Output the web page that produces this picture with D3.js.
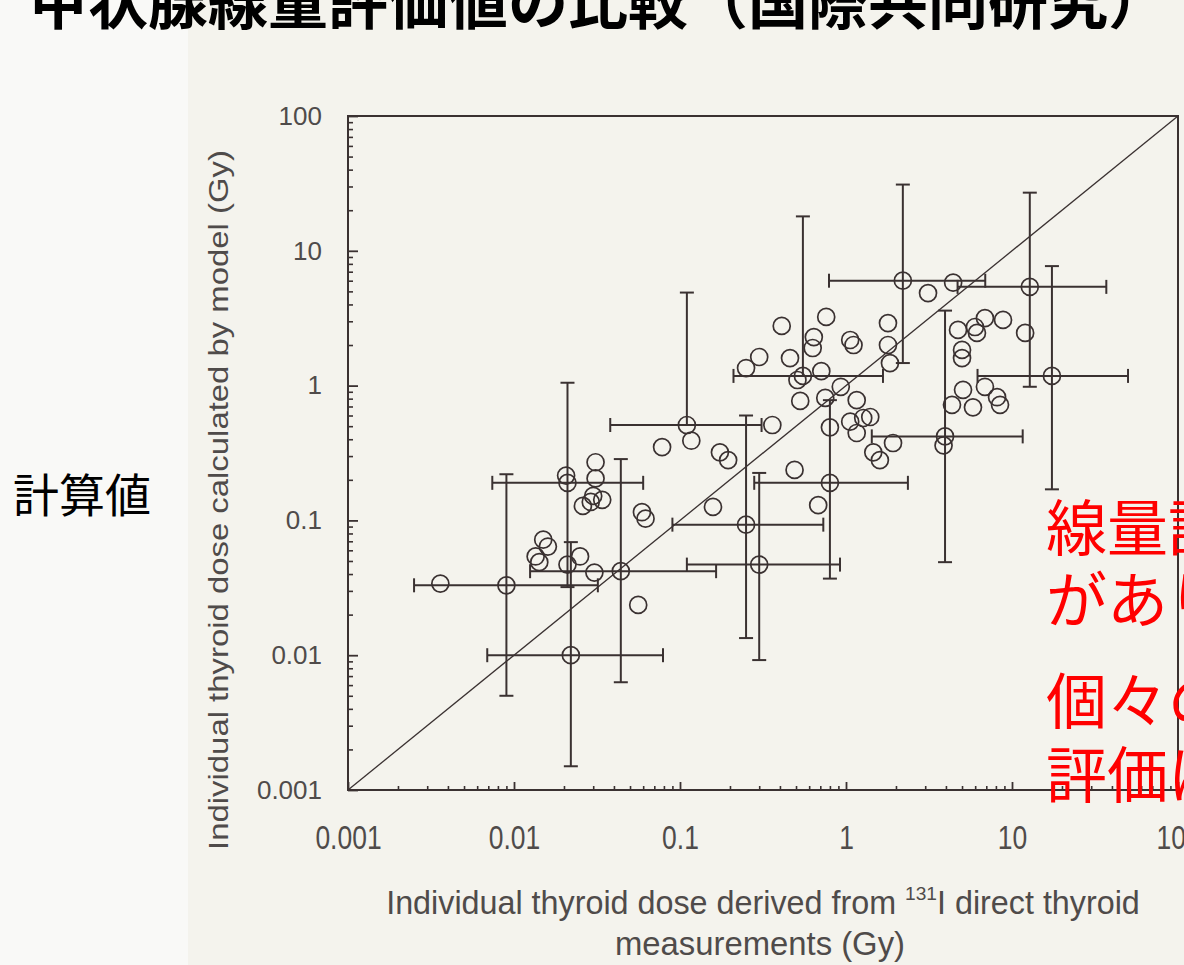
<!DOCTYPE html>
<html>
<head>
<meta charset="utf-8">
<script src="https://cdn.jsdelivr.net/npm/d3@7"></script>
<style>
  html, body { margin: 0; padding: 0; background: #f9f9f7; }
  svg { display: block; }
</style>
</head>
<body>
<svg id="chart" width="1184" height="965"></svg>
<script>
// Tick values and labels shared by both log axes (Gy)
const tickValues = [0.001, 0.01, 0.1, 1, 10, 100];
const tickLabels = ["0.001", "0.01", "0.1", "1", "10", "100"];

// Individuals shown without uncertainty ranges:
// measured dose (131I direct thyroid measurement) vs. dose calculated by the model, Gy
const measuredDose = [
  0.0036, 0.0206, 0.031, 0.031, 0.030, 0.026, 0.034, 0.029, 0.059, 0.062,
  0.015, 0.016, 0.0135, 0.0142, 0.021, 0.025, 0.0305, 0.056,
  0.078, 0.117, 0.174, 0.195, 0.158, 0.25, 0.30, 0.41, 0.46, 0.76,
  0.64, 0.63, 1.06, 1.11, 1.79, 1.79, 1.84, 0.51, 0.71, 0.93,
  1.16, 0.53, 0.75, 0.80, 1.06, 1.27, 1.40, 1.16, 1.46, 1.60,
  1.92, 0.36, 0.49, 0.68,
  3.12, 4.42, 4.73, 6.15, 5.98, 6.87, 8.83, 12.0, 5.0, 5.0,
  5.07, 4.35, 5.82, 6.87, 8.13, 8.47, 3.87
];
const modelDose = [
  0.034, 0.215, 0.27, 0.205, 0.152, 0.128, 0.142, 0.137, 0.115, 0.103,
  0.072, 0.064, 0.054, 0.049, 0.047, 0.054, 0.041, 0.0236,
  0.35, 0.39, 0.32, 0.28, 0.126, 1.35, 1.63, 2.77, 1.60, 3.23,
  2.29, 1.90, 2.18, 2.0, 2.91, 2.0, 1.47, 1.10, 1.28, 0.98,
  0.78, 0.77, 0.81, 0.49, 0.54, 0.575, 0.585, 0.445, 0.32, 0.28,
  0.375, 0.51, 0.237, 0.13,
  4.86, 5.8, 2.59, 2.46, 2.72, 3.17, 3.07, 2.46, 1.84, 1.60,
  0.93, 0.72, 0.69, 0.98, 0.82, 0.72, 0.36
];

// Individuals shown with uncertainty ranges (lower/upper bounds, Gy);
// a null lower model bound means only the upper range is drawn
const rangeMeasured     = [0.009, 0.021, 0.044, 0.022, 0.11, 0.25, 0.30, 0.80, 0.55, 2.2, 12.8, 17.4, 3.95];
const rangeModel        = [0.033, 0.19, 0.042, 0.010, 0.51, 0.093, 0.047, 0.19, 1.18, 6.0, 5.4, 1.18, 0.42];
const rangeMeasuredLow  = [0.0025, 0.0074, 0.0125, 0.0069, 0.038, 0.09, 0.11, 0.28, 0.21, 0.79, 4.7, 6.2, 1.43];
const rangeMeasuredHigh = [0.032, 0.060, 0.165, 0.079, 0.31, 0.73, 0.92, 2.36, 1.67, 6.9, 37, 50, 11.6];
const rangeModelLow     = [0.005, 0.032, 0.0063, 0.0015, null, 0.0134, 0.0092, 0.037, null, 1.47, 0.98, 0.17, 0.049];
const rangeModelHigh    = [0.22, 1.05, 0.285, 0.069, 4.9, 0.60, 0.225, 0.78, 18, 31, 27, 7.7, 3.6];

const INK = "#3a3131";
const LABEL = "#4f4b4a";

const svg = d3.select("#chart");

// scanned page area
svg.append("rect").attr("x", 188).attr("y", 0).attr("width", 996).attr("height", 965)
  .attr("fill", "#f4f3ed");

// slide title (runs above the visible area)
svg.append("text")
  .attr("x", 28).attr("y", 24)
  .attr("font-family", "'Noto Sans CJK JP', sans-serif")
  .attr("font-weight", 700).attr("font-size", 60).attr("fill", "#000")
  .text("甲状腺線量評価値の比較（国際共同研究）");

const x = d3.scaleLog().domain([0.001, 100]).range([348, 1178]);
const y = d3.scaleLog().domain([0.001, 100]).range([790, 116]);

const decades = new Set(tickValues);
const minorX = x.ticks().filter(v => !decades.has(+v.toPrecision(6)));
const minorY = y.ticks().filter(v => !decades.has(+v.toPrecision(6)));

// minor ticks
svg.append("g").attr("transform", `translate(0,${y.range()[0]})`)
  .call(d3.axisBottom(x).tickValues(minorX).tickSizeInner(-4).tickSizeOuter(0).tickFormat(""))
  .call(g => g.select(".domain").remove())
  .call(g => g.selectAll("line").attr("stroke", INK).attr("stroke-width", 1.6));
svg.append("g").attr("transform", `translate(${x.range()[0]},0)`)
  .call(d3.axisLeft(y).tickValues(minorY).tickSizeInner(-5).tickSizeOuter(0).tickFormat(""))
  .call(g => g.select(".domain").remove())
  .call(g => g.selectAll("line").attr("stroke", INK).attr("stroke-width", 1.6));

// major ticks with labels
svg.append("g").attr("transform", `translate(0,${y.range()[0]})`)
  .call(d3.axisBottom(x).tickValues(tickValues).tickSizeInner(-8).tickSizeOuter(0)
    .tickFormat((d, i) => tickLabels[i]))
  .call(g => g.select(".domain").remove())
  .call(g => g.selectAll("line").attr("stroke", INK).attr("stroke-width", 1.8))
  .call(g => g.selectAll("text")
    .attr("y", 0).attr("dy", "0.72em")
    .attr("transform", "translate(0,36) scale(0.98,1.2)")
    .attr("font-family", "'Liberation Sans', Arial, sans-serif")
    .attr("font-size", 27).attr("fill", LABEL));

svg.append("g").attr("transform", `translate(${x.range()[0]},0)`)
  .call(d3.axisLeft(y).tickValues(tickValues).tickSizeInner(-10).tickSizeOuter(0).tickPadding(26)
    .tickFormat((d, i) => tickLabels[i]))
  .call(g => g.select(".domain").remove())
  .call(g => g.selectAll("line").attr("stroke", INK).attr("stroke-width", 1.8))
  .call(g => g.selectAll("text")
    .attr("font-family", "'Liberation Sans', Arial, sans-serif")
    .attr("font-size", 26).attr("fill", LABEL));

// plot frame
svg.append("rect")
  .attr("x", x.range()[0]).attr("y", y.range()[1])
  .attr("width", x.range()[1] - x.range()[0])
  .attr("height", y.range()[0] - y.range()[1])
  .attr("fill", "none").attr("stroke", INK).attr("stroke-width", 2);

// line of identity
svg.append("line")
  .attr("x1", x(0.001)).attr("y1", y(0.001))
  .attr("x2", x(100)).attr("y2", y(100))
  .attr("stroke", INK).attr("stroke-width", 1.3);

// uncertainty ranges
const ranges = rangeMeasured.map((v, i) => ({
  x: v, y: rangeModel[i],
  xlo: rangeMeasuredLow[i], xhi: rangeMeasuredHigh[i],
  ylo: rangeModelLow[i], yhi: rangeModelHigh[i]
}));
const CAP = 7;
const bars = svg.append("g").attr("stroke", INK).attr("stroke-width", 2).attr("fill", "none");
ranges.forEach(d => {
  const cx = x(d.x), cy = y(d.y);
  const g = bars.append("g");
  g.append("line").attr("x1", x(d.xlo)).attr("x2", x(d.xhi)).attr("y1", cy).attr("y2", cy);
  [d.xlo, d.xhi].forEach(v => g.append("line")
    .attr("x1", x(v)).attr("x2", x(v)).attr("y1", cy - CAP).attr("y2", cy + CAP));
  const yBottom = d.ylo == null ? cy : y(d.ylo);
  g.append("line").attr("x1", cx).attr("x2", cx).attr("y1", yBottom).attr("y2", y(d.yhi));
  [d.ylo, d.yhi].filter(v => v != null).forEach(v => g.append("line")
    .attr("x1", cx - CAP).attr("x2", cx + CAP).attr("y1", y(v)).attr("y2", y(v)));
});

// open circle markers
const pts = measuredDose.map((v, i) => ({ x: v, y: modelDose[i] }))
  .concat(ranges.map(d => ({ x: d.x, y: d.y })));
svg.append("g").selectAll("circle").data(pts).join("circle")
  .attr("cx", d => x(d.x)).attr("cy", d => y(d.y)).attr("r", 8.5)
  .attr("fill", "none").attr("stroke", INK).attr("stroke-width", 1.7);

// squeeze a text element to a given width, centred on (cx, baseline)
function fitText(sel, cx, baseline, width, sy, rotate) {
  const len = sel.node().getComputedTextLength();
  const sx = width / len;
  sel.attr("x", 0).attr("y", 0).attr("text-anchor", "middle")
    .attr("transform", `translate(${cx},${baseline})${rotate ? " rotate(-90)" : ""} scale(${sx},${sy})`);
}

const axisFont = "'Liberation Sans', Arial, sans-serif";

// x-axis title
const xt1 = svg.append("text").attr("font-family", axisFont).attr("font-size", 27).attr("fill", LABEL);
xt1.append("tspan").text("Individual thyroid dose derived from ");
xt1.append("tspan").attr("font-size", 16).attr("dy", -12).text("131");
xt1.append("tspan").attr("dy", 12).text("I direct thyroid");
fitText(xt1, 763, 914, 754, 1.2, false);

const xt2 = svg.append("text").attr("font-family", axisFont).attr("font-size", 27).attr("fill", LABEL)
  .text("measurements (Gy)");
fitText(xt2, 760, 955, 290, 1.2, false);

// y-axis title
const yt = svg.append("text").attr("font-family", axisFont).attr("font-size", 27).attr("fill", LABEL)
  .text("Individual thyroid dose calculated by model (Gy)");
fitText(yt, 228, 500, 700, 1, true);

// annotations
const jp = "'Noto Sans CJK JP', sans-serif";
svg.append("text").attr("x", 13).attr("y", 512)
  .attr("font-family", jp).attr("font-size", 46).attr("fill", "#000")
  .text("計算値");

const notes = [
  { text: "線量評価には不確かさ", y: 551 },
  { text: "があり、", y: 623 },
  { text: "個々の", y: 724 },
  { text: "評価は困難", y: 798 }
];
svg.append("g").selectAll("text").data(notes).join("text")
  .attr("x", 1046).attr("y", d => d.y)
  .attr("font-family", jp).attr("font-size", 61).attr("fill", "#ff0000")
  .text(d => d.text);
</script>
</body>
</html>
